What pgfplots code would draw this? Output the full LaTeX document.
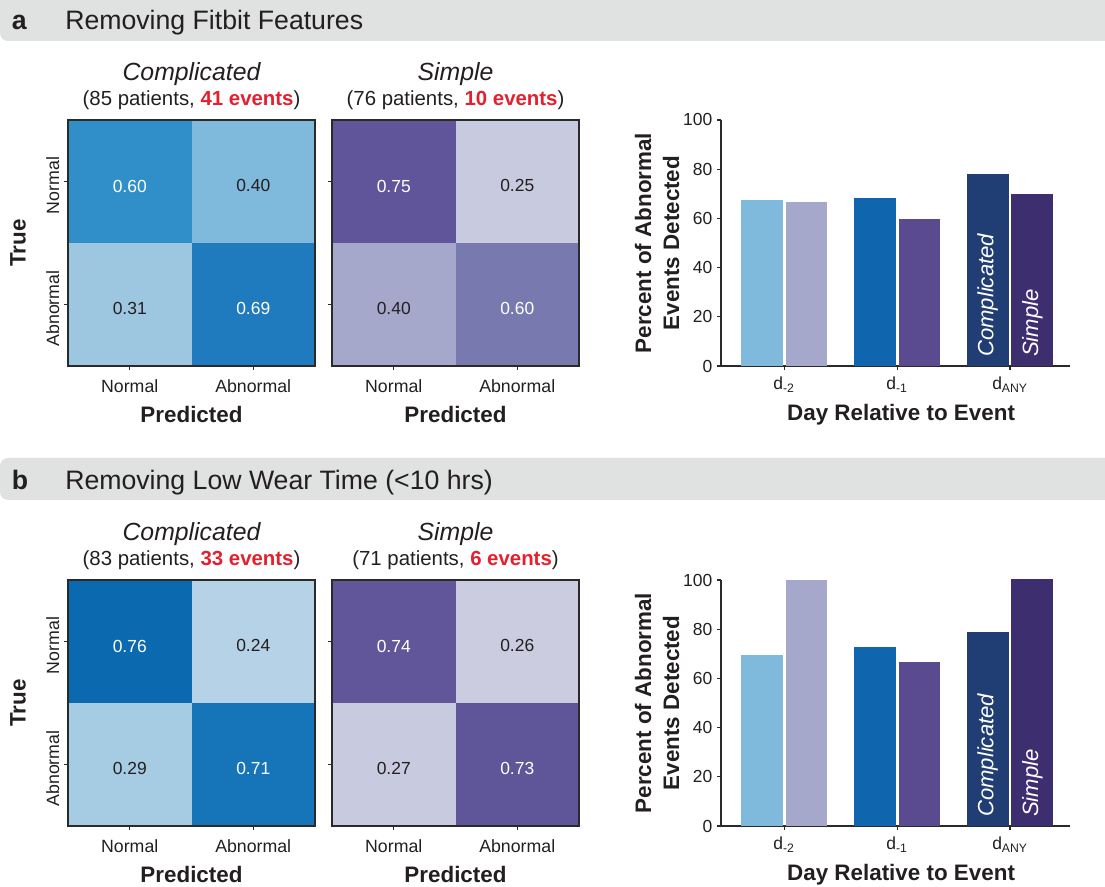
\documentclass[border=0pt]{standalone}
\usepackage{fontspec}
\setmainfont{Liberation Sans}
\usepackage{pgfplots}
\pgfplotsset{compat=1.18}
\definecolor{txt}{HTML}{231F20}
\definecolor{axc}{HTML}{2A2A2A}
\definecolor{band}{HTML}{E0E1E1}
\definecolor{evred}{HTML}{E5202E}
\definecolor{aC11}{HTML}{308FC8}\definecolor{aC12}{HTML}{7FBADD}\definecolor{aC21}{HTML}{9DC7E0}\definecolor{aC22}{HTML}{1F7BBD}
\definecolor{aS11}{HTML}{60559A}\definecolor{aS12}{HTML}{C8CADF}\definecolor{aS21}{HTML}{A5A8CA}\definecolor{aS22}{HTML}{7779AF}
\definecolor{bC11}{HTML}{0B69AF}\definecolor{bC12}{HTML}{B5D2E6}\definecolor{bC21}{HTML}{A6CCE3}\definecolor{bC22}{HTML}{1575B8}
\definecolor{bS11}{HTML}{61569A}\definecolor{bS12}{HTML}{CBCCE0}\definecolor{bS21}{HTML}{C8CADF}\definecolor{bS22}{HTML}{5F5599}
\definecolor{barC2}{HTML}{7FBADD}\definecolor{barS2}{HTML}{A5A8CA}
\definecolor{barC1}{HTML}{1066AE}\definecolor{barS1}{HTML}{5A4A90}
\definecolor{barCA}{HTML}{203E74}\definecolor{barSA}{HTML}{3D2E70}
\newcommand{\fs}[2]{\fontsize{#1}{#2}\selectfont}
\tikzset{inlab/.style={rotate=90, anchor=west, inner sep=0pt, text=white, font=\itshape\fs{16.6pt}{19pt}}}
\pgfplotsset{
 cm/.style={
  scale only axis, width=185.25pt, height=184.5pt,
  xmin=0, xmax=2, ymin=0, ymax=2,
  xtick={0.5,1.5}, ytick={0.5,1.5},
  xticklabels={Normal,Abnormal},
  tick align=outside, major tick length=3pt, tick pos=left,
  axis line style={axc, line width=1.1pt},
  tick style={axc, line width=0.8pt},
  ticklabel style={font=\fs{13.3pt}{16pt}, text=txt},
  xticklabel style={yshift=-3.5pt},
  xlabel={Predicted},
  xlabel style={at={(axis description cs:0.5,-0.199)}, anchor=center, font=\bfseries\fs{16.8pt}{20pt}, text=txt},
  axis on top,
 },
 cell/.style={fill=#1, draw=none},
 val/.style={only marks, mark=text, text mark={},
  nodes near coords, point meta=explicit symbolic,
  nodes near coords style={anchor=center, font=\fs{13.1pt}{15pt}, text=#1}},
 bars/.style={
  scale only axis, width=261.75pt, height=184.5pt,
  xmin=-0.558, xmax=2.531, ymin=0, ymax=100,
  axis lines=left, axis line style={-, axc, line width=1.1pt},
  ytick={0,20,40,60,80,100}, xtick={0,1,2},
  xticklabels={d\textsubscript{-2},d\textsubscript{-1},d\textsubscript{ANY}},
  tick align=outside, major tick length=3pt,
  tick style={axc, line width=0.8pt},
  ticklabel style={font=\fs{13.1pt}{16pt}, text=txt},
  xticklabel style={yshift=-1.5pt},
  /pgf/number format/assume math mode=true,
  ylabel={Percent of Abnormal\\Events Detected},
  ylabel style={at={(axis description cs:-0.183,0.5)}, anchor=center, align=center, font=\bfseries\fs{16.8pt}{21pt}, text=txt},
  xlabel={Day Relative to Event},
  xlabel style={at={(axis description cs:0.516,-0.199)}, anchor=center, font=\bfseries\fs{16.8pt}{20pt}, text=txt},
  clip=false,
 },
 barL/.style={ybar, bar width=31.2pt, bar shift=-16.7pt, fill=#1, draw=none},
 barR/.style={ybar, bar width=31.2pt, bar shift=16.7pt, fill=#1, draw=none},
}
\begin{document}
\begin{tikzpicture}[x=0.75pt,y=0.75pt]
\path[use as bounding box] (0,0) rectangle (1105,887);
% header bands
\fill[band, rounded corners=6pt] (0,846) rectangle (1125,900);
\fill[band, rounded corners=6pt] (0,387) rectangle (1125,429);
\node[anchor=base west, inner sep=0pt, font=\bfseries\fs{20pt}{24pt}, text=txt] at (11.5,857) {a};
\node[anchor=base west, inner sep=0pt, font=\fs{20pt}{24pt}, text=txt] at (65,857) {Removing Fitbit Features};
\node[anchor=base west, inner sep=0pt, font=\bfseries\fs{20pt}{24pt}, text=txt] at (11.5,397) {b};
\node[anchor=base west, inner sep=0pt, font=\fs{20pt}{24pt}, text=txt] at (65,397) {Removing Low Wear Time (<10 hrs)};
% titles
\node[anchor=base, inner sep=0pt, font=\itshape\fs{18.6pt}{22pt}, text=txt] at (191.5,806) {Complicated};
\node[anchor=base, inner sep=0pt, font=\fs{15.3pt}{18pt}, text=txt] at (191.5,781) {(85 patients, \textcolor{evred}{\bfseries 41 events})};
\node[anchor=base, inner sep=0pt, font=\itshape\fs{18.6pt}{22pt}, text=txt] at (455.5,806) {Simple};
\node[anchor=base, inner sep=0pt, font=\fs{15.3pt}{18pt}, text=txt] at (455.5,781) {(76 patients, \textcolor{evred}{\bfseries 10 events})};
\node[anchor=base, inner sep=0pt, font=\itshape\fs{18.6pt}{22pt}, text=txt] at (191.5,346) {Complicated};
\node[anchor=base, inner sep=0pt, font=\fs{15.3pt}{18pt}, text=txt] at (191.5,321) {(83 patients, \textcolor{evred}{\bfseries 33 events})};
\node[anchor=base, inner sep=0pt, font=\itshape\fs{18.6pt}{22pt}, text=txt] at (455.5,346) {Simple};
\node[anchor=base, inner sep=0pt, font=\fs{15.3pt}{18pt}, text=txt] at (455.5,321) {(71 patients, \textcolor{evred}{\bfseries 6 events})};

% ---------- panel a: complicated matrix
\begin{axis}[cm, at={(51pt,390.75pt)}, anchor=south west,
  yticklabels={Abnormal,Normal}, yticklabel style={rotate=90, anchor=south, xshift=-3pt},
  ylabel={True}, ylabel style={at={(axis description cs:-0.2024,0.5)}, anchor=center, font=\bfseries\fs{16.8pt}{20pt}, text=txt}]
\addplot[cell=aC11] coordinates {(0,1) (1,1) (1,2) (0,2)} -- cycle;
\addplot[cell=aC12] coordinates {(1,1) (2,1) (2,2) (1,2)} -- cycle;
\addplot[cell=aC21] coordinates {(0,0) (1,0) (1,1) (0,1)} -- cycle;
\addplot[cell=aC22] coordinates {(1,0) (2,0) (2,1) (1,1)} -- cycle;
\addplot[val=white] coordinates {(0.5,1.46) [0.60] (1.5,0.47) [0.69]};
\addplot[val=txt] coordinates {(1.5,1.47) [0.40] (0.5,0.47) [0.31]};
\end{axis}
% ---------- panel a: simple matrix
\begin{axis}[cm, at={(249pt,390.75pt)}, anchor=south west, yticklabels={}]
\addplot[cell=aS11] coordinates {(0,1) (1,1) (1,2) (0,2)} -- cycle;
\addplot[cell=aS12] coordinates {(1,1) (2,1) (2,2) (1,2)} -- cycle;
\addplot[cell=aS21] coordinates {(0,0) (1,0) (1,1) (0,1)} -- cycle;
\addplot[cell=aS22] coordinates {(1,0) (2,0) (2,1) (1,1)} -- cycle;
\addplot[val=white] coordinates {(0.5,1.46) [0.75] (1.5,0.47) [0.60]};
\addplot[val=txt] coordinates {(1.5,1.47) [0.25] (0.5,0.47) [0.40]};
\end{axis}
% ---------- panel a: bars
\begin{axis}[bars, at={(540.75pt,390.75pt)}, anchor=south west]
\addplot[barL=barC2] coordinates {(0,67.4)};
\addplot[barR=barS2] coordinates {(0,66.5)};
\addplot[barL=barC1] coordinates {(1,68.1)};
\addplot[barR=barS1] coordinates {(1,59.7)};
\addplot[barL=barCA] coordinates {(2,78.0)};
\addplot[barR=barSA] coordinates {(2,69.9)};
\node[inlab] at (axis cs:1.803,3.6) {Complicated};
\node[inlab] at (axis cs:2.197,3.6) {Simple};
\end{axis}

% ---------- panel b: complicated matrix
\begin{axis}[cm, at={(51pt,45.75pt)}, anchor=south west,
  yticklabels={Abnormal,Normal}, yticklabel style={rotate=90, anchor=south, xshift=-3pt},
  ylabel={True}, ylabel style={at={(axis description cs:-0.2024,0.5)}, anchor=center, font=\bfseries\fs{16.8pt}{20pt}, text=txt}]
\addplot[cell=bC11] coordinates {(0,1) (1,1) (1,2) (0,2)} -- cycle;
\addplot[cell=bC12] coordinates {(1,1) (2,1) (2,2) (1,2)} -- cycle;
\addplot[cell=bC21] coordinates {(0,0) (1,0) (1,1) (0,1)} -- cycle;
\addplot[cell=bC22] coordinates {(1,0) (2,0) (2,1) (1,1)} -- cycle;
\addplot[val=white] coordinates {(0.5,1.46) [0.76] (1.5,0.47) [0.71]};
\addplot[val=txt] coordinates {(1.5,1.47) [0.24] (0.5,0.47) [0.29]};
\end{axis}
% ---------- panel b: simple matrix
\begin{axis}[cm, at={(249pt,45.75pt)}, anchor=south west, yticklabels={}]
\addplot[cell=bS11] coordinates {(0,1) (1,1) (1,2) (0,2)} -- cycle;
\addplot[cell=bS12] coordinates {(1,1) (2,1) (2,2) (1,2)} -- cycle;
\addplot[cell=bS21] coordinates {(0,0) (1,0) (1,1) (0,1)} -- cycle;
\addplot[cell=bS22] coordinates {(1,0) (2,0) (2,1) (1,1)} -- cycle;
\addplot[val=white] coordinates {(0.5,1.46) [0.74] (1.5,0.47) [0.73]};
\addplot[val=txt] coordinates {(1.5,1.47) [0.26] (0.5,0.47) [0.27]};
\end{axis}
% ---------- panel b: bars
\begin{axis}[bars, at={(540.75pt,45.75pt)}, anchor=south west]
\addplot[barL=barC2] coordinates {(0,69.5)};
\addplot[barR=barS2] coordinates {(0,100)};
\addplot[barL=barC1] coordinates {(1,72.6)};
\addplot[barR=barS1] coordinates {(1,66.6)};
\addplot[barL=barCA] coordinates {(2,78.8)};
\addplot[barR=barSA] coordinates {(2,100.4)};
\node[inlab] at (axis cs:1.803,3.6) {Complicated};
\node[inlab] at (axis cs:2.197,3.6) {Simple};
\end{axis}
\end{tikzpicture}
\end{document}
